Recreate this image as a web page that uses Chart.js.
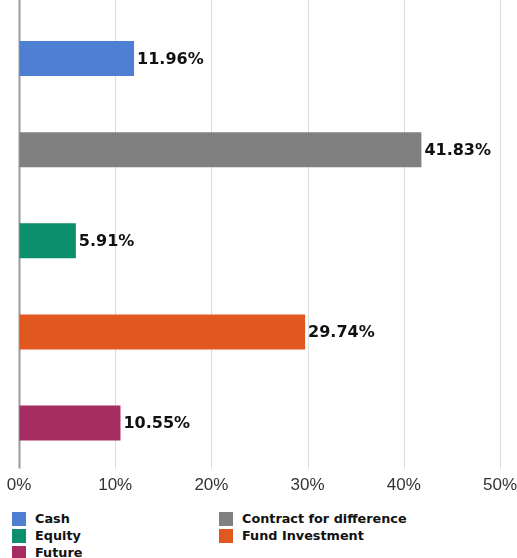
<!DOCTYPE html>
<html>
<head>
<meta charset="utf-8">
<script src="https://cdn.jsdelivr.net/npm/chart.js@4/dist/chart.umd.min.js"></script>
<style>
  html, body { margin: 0; padding: 0; background: #fff; }
  #wrap { position: relative; width: 517px; height: 496px; }
  #legend { position: absolute; left: 0; top: 511px; width: 517px; font-family: "DejaVu Sans", sans-serif; font-weight: bold; font-size: 12.8px; color: #111; }
  .item { position: absolute; height: 16px; line-height: 16px; white-space: nowrap; }
  .box { position: absolute; left: 0; top: 1px; width: 14px; height: 14px; }
  .txt { position: absolute; left: 23px; top: 0; }
</style>
</head>
<body>
<div id="wrap"><canvas id="chart" width="517" height="496"></canvas></div>
<div id="legend"></div>
<script>
// ─── Data ───────────────────────────────────────────────
const categories = ["Cash", "Contract for difference", "Equity", "Fund Investment", "Future"];
const shares = [11.96, 41.83, 5.91, 29.74, 10.55];
const colors = ["#4f7fd2", "#808080", "#0b8f6c", "#e0581f", "#a52d62"];
const xTicks = [0, 10, 20, 30, 40, 50];

// value labels at bar ends
const valueLabels = {
  id: "valueLabels",
  afterDatasetsDraw(chart) {
    const { ctx } = chart;
    const meta = chart.getDatasetMeta(0);
    ctx.save();
    ctx.font = "bold 16px 'DejaVu Sans', sans-serif";
    ctx.fillStyle = "#111";
    ctx.textBaseline = "middle";
    ctx.textAlign = "left";
    meta.data.forEach((bar, i) => {
      ctx.fillText(shares[i].toFixed(2) + "%", bar.x + 3, bar.y + 1);
    });
    ctx.restore();
  }
};

// grid lines from the top of the canvas down to the axis, zero line darker
const fullGrid = {
  id: "fullGrid",
  beforeDatasetsDraw(chart) {
    const { ctx, chartArea } = chart;
    const xs = chart.scales.x;
    ctx.save();
    xTicks.forEach(v => {
      const px = Math.round(xs.getPixelForValue(v)) + 0.5;
      ctx.strokeStyle = v === 0 ? "#9a9a9a" : "#dcdcdc";
      ctx.lineWidth = v === 0 ? 2 : 1;
      ctx.beginPath();
      ctx.moveTo(px, 0);
      ctx.lineTo(px, chartArea.bottom);
      ctx.stroke();
    });
    ctx.restore();
  }
};

new Chart(document.getElementById("chart"), {
  type: "bar",
  data: {
    labels: categories,
    datasets: [{
      data: shares,
      backgroundColor: colors,
      barPercentage: 0.385,
      categoryPercentage: 1,
    }]
  },
  options: {
    responsive: false,
    animation: false,
    indexAxis: "y",
    layout: { padding: { top: 13, left: 19, right: 0, bottom: 0 } },
    plugins: { legend: { display: false }, tooltip: { enabled: false } },
    scales: {
      x: {
        min: 0, max: 50,
        afterBuildTicks: s => { s.ticks = xTicks.map(v => ({ value: v })); },
        ticks: {
          color: "#333",
          font: { family: "'Liberation Sans', Arial, sans-serif", size: 17 },
          padding: 0,
          callback: v => v + "%",
        },
        grid: { color: "rgba(0,0,0,0)", drawTicks: true, tickLength: 7, tickColor: "rgba(0,0,0,0)" },
        border: { display: false },
      },
      y: {
        display: false,
      }
    }
  },
  plugins: [valueLabels, fullGrid]
});

// ─── Legend ─────────────────────────────────────────────
const legendPos = [[12, 0], [219, 0], [12, 17], [219, 17], [12, 34]];
const legend = document.getElementById("legend");
categories.forEach((c, i) => {
  const el = document.createElement("div");
  el.className = "item";
  el.style.left = legendPos[i][0] + "px";
  el.style.top = legendPos[i][1] + "px";
  el.innerHTML = `<span class="box" style="background:${colors[i]}"></span><span class="txt">${c}</span>`;
  legend.appendChild(el);
});
</script>
</body>
</html>
